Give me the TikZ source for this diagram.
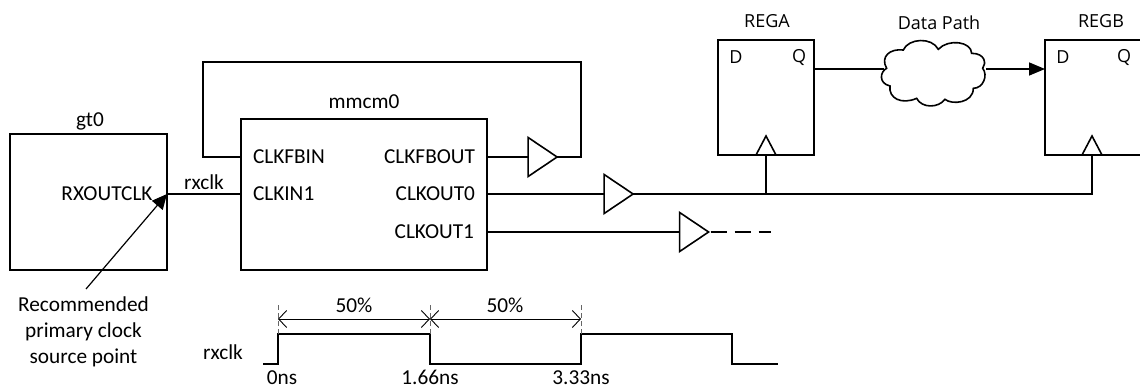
\documentclass[tikz,border=0pt]{standalone}
\usepackage{fontspec}
\setmainfont{Carlito}
\newfontfamily\regfont{Open Sans}
\usetikzlibrary{arrows.meta,shapes.geometric}
\tikzset{
 x=1pt,y=-1pt,
 wire/.style={line width=1.6pt,line join=miter},
 blockbox/.style={draw,line width=1.6pt,rectangle,inner sep=0pt,outer sep=0pt,anchor=north west,fill=white},
 bufr/.style={draw,line width=1.6pt,isosceles triangle,isosceles triangle stretches,minimum height=29pt,minimum width=39pt,inner sep=0pt,outer sep=0pt,fill=white},
 clk/.style={draw,line width=1.6pt,isosceles triangle,isosceles triangle stretches,shape border rotate=90,minimum height=19pt,minimum width=20pt,inner sep=0pt,outer sep=0pt,anchor=apex,fill=white},
 lbl/.style={font=\fontsize{21.3}{26}\selectfont,inner sep=0pt,outer sep=0pt},
 rlbl/.style={font=\regfont\fontsize{18}{20}\selectfont,inner sep=0pt,outer sep=0pt},
 solidhead/.style={-{Stealth[length=16pt,width=13pt,inset=0pt]}},
 dim/.style={line width=0.9pt,{Straight Barb[length=8pt,width=17pt,line width=0.9pt]}-{Straight Barb[length=8pt,width=17pt,line width=0.9pt]}},
 tick/.style={line width=0.8pt,draw=black!60,dash pattern=on 5pt off 3pt},
}
\begin{document}
\begin{tikzpicture}
\clip (0,0) rectangle (1140,387);
% boxes
\node[blockbox,minimum width=157pt,minimum height=136pt] (gt) at (10,134) {};
\node[blockbox,minimum width=246pt,minimum height=151pt] (mm) at (241,119) {};
\node[blockbox,minimum width=96pt,minimum height=115pt] (rega) at (718,40) {};
\node[blockbox,minimum width=130pt,minimum height=115pt] (regb) at (1045,40) {};
% labels
\node[lbl] (tgt) at (90,121) {gt0};
\node[lbl] (tmm) at (364,102) {mmcm0};
\node[lbl] (trx) at (107,194) {RXOUTCLK};
\node[lbl] (trc) at (204,182) {rxclk};
\node[lbl,anchor=west] (p1) at (253,157) {CLKFBIN};
\node[lbl,anchor=west] (p2) at (253,194) {CLKIN1};
\node[lbl,anchor=east] (p3) at (475,157) {CLKFBOUT};
\node[lbl,anchor=east] (p4) at (475,194) {CLKOUT0};
\node[lbl,anchor=east] (p5) at (474,232) {CLKOUT1};
\node[rlbl] (ta) at (767,21) {REGA};
\node[rlbl] (tb) at (1101,21) {REGB};
\node[rlbl] (td) at (939,22.5) {Data Path};
\node[rlbl] (da) at (736,57) {D};
\node[rlbl] (qa) at (799,58) {Q};
\node[rlbl] (db) at (1063,57) {D};
\node[rlbl] (qb) at (1124,58) {Q};
% pins
\coordinate (fbin) at (241,157);
\coordinate (in1) at (241,194);
\coordinate (rxo) at (167,194);
\coordinate (fbout) at (487,157);
\coordinate (out0) at (487,194);
\coordinate (out1) at (487,232);
\coordinate (q) at (814,69);
\coordinate (regd) at (1045,69);
% buffers
\node[bufr] (b0) at (538.5,157) {};
\node[bufr] (b1) at (614.5,194) {};
\node[bufr] (b2) at (690,232) {};
% cloud
\coordinate (cl) at (884,69);
\coordinate (cr) at (986,69);
% wires
\draw[wire] (rxo) -- (in1);
\draw[wire] (fbout) -- (b0.lower side);
\draw[wire] (b0.apex) -- (581,157) -- (581,62) -- (203,62) -- (203,157) -- (fbin);
\draw[wire] (out0) -- (b1.lower side);
\draw[wire] (b1.apex) -- (1092,194) -- (1092,155);
\draw[wire] (766,155) -- (766,194);
\draw[wire] (out1) -- (b2.lower side);
\coordinate (dashend) at (771,232);
\draw[line width=1.6pt,dash pattern=on 16pt off 8pt] ([xshift=2pt]b2.apex) -- (dashend);
\draw[wire] (q) -- (cl);
\draw[wire,solidhead] (cr) -- (regd);
\node[clk] (ca) at (766,136) {};
\node[clk] (cb) at (1092,136) {};
\draw[wire,fill=white,shift={(690,0)},x=0.3333pt,y=-0.3333pt]
 (640,150) .. controls (655,115) and (725,110) .. (745,148)
 .. controls (775,115) and (845,125) .. (845,160)
 .. controls (885,160) and (890,190) .. (878,205)
 .. controls (895,225) and (880,265) .. (850,265)
 .. controls (850,310) and (785,315) .. (765,298)
 .. controls (745,325) and (695,325) .. (680,295)
 .. controls (635,315) and (595,295) .. (600,258)
 .. controls (565,250) and (570,215) .. (590,205)
 .. controls (570,170) and (600,145) .. (640,150) -- cycle;
% recommended
\node[lbl,align=center] (rec) at (83.5,331.5) {Recommended\\primary clock\\source point};
\coordinate (rs) at (86,289);
\draw[line width=1.2pt,-{Stealth[length=15pt,width=14pt,inset=0pt]}] (rs) -- (rxo);
% timing
\coordinate (w0) at (263,364);
\coordinate (t0) at (278,334);
\coordinate (t1) at (430,334);
\coordinate (t2) at (581,334);
\coordinate (t3) at (732,334);
\coordinate (w1) at (778,364);
\draw[wire] (w0) -- (t0 |- w0) -- (t0) -- (t1) -- (t1 |- w0) -- (t2 |- w0) -- (t2) -- (t3) -- (t3 |- w0) -- (w1);
\draw[tick] (t0) -- ++(0,-29);
\draw[tick] (t1) -- ++(0,-29);
\draw[tick] (t2) -- ++(0,-29);
\coordinate (d0) at (278,319);
\coordinate (d1) at (430,319);
\coordinate (d2) at (581,319);
\draw[dim] (d0) -- (d1);
\draw[dim] (d1) -- (d2);
\node[lbl] (p50a) at (354,305) {50\%};
\node[lbl] (p50b) at (505,305) {50\%};
\node[lbl] (wrx) at (223,352) {rxclk};
\node[lbl] (n0) at (282,377.5) {0ns};
\node[lbl] (n1) at (430,377.5) {1.66ns};
\node[lbl] (n2) at (581,377.5) {3.33ns};
\end{tikzpicture}
\end{document}
